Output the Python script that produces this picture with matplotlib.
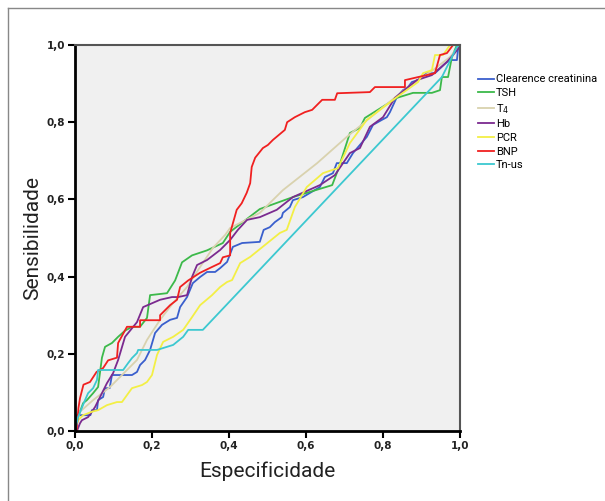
import matplotlib.pyplot as plt
from matplotlib.lines import Line2D
from matplotlib.ticker import FuncFormatter

# ROC curves: (1 - specificity, sensitivity)
clear_x = [0, 0.005, 0.04, 0.044, 0.057, 0.06, 0.073, 0.078, 0.09, 0.096, 0.148, 0.161, 0.169, 0.182, 0.195,
           0.208, 0.226, 0.247, 0.265, 0.273, 0.291, 0.306, 0.325, 0.343, 0.364, 0.377, 0.395, 0.41, 0.434,
           0.48, 0.49, 0.506, 0.519, 0.537, 0.54, 0.558, 0.566, 0.592, 0.636, 0.649, 0.67, 0.68, 0.706,
           0.722, 0.74, 0.758, 0.774, 0.797, 0.81, 0.818, 0.836, 0.852, 0.865, 0.875, 0.89, 0.914, 0.935,
           0.966, 0.974, 0.992, 0.995, 1.0]
clear_y = [0, 0.041, 0.041, 0.054, 0.054, 0.08, 0.088, 0.111, 0.111, 0.145, 0.145, 0.153, 0.171, 0.184,
           0.21, 0.254, 0.275, 0.288, 0.293, 0.321, 0.347, 0.383, 0.399, 0.412, 0.412, 0.422, 0.438, 0.477,
           0.487, 0.49, 0.521, 0.528, 0.541, 0.554, 0.565, 0.58, 0.598, 0.606, 0.632, 0.658, 0.668, 0.694,
           0.694, 0.72, 0.741, 0.762, 0.793, 0.806, 0.813, 0.826, 0.865, 0.883, 0.891, 0.904, 0.909, 0.927,
           0.927, 0.956, 0.961, 0.961, 0.99, 1.0]

tsh_x = [0, 0.008, 0.021, 0.031, 0.047, 0.06, 0.07, 0.078, 0.096, 0.112, 0.13, 0.148, 0.169, 0.187,
         0.195, 0.239, 0.26, 0.278, 0.304, 0.343, 0.384, 0.403, 0.48, 0.566, 0.668, 0.683, 0.714, 0.74,
         0.753, 0.836, 0.878, 0.927, 0.948, 0.953, 0.969, 0.979, 0.992, 1.0]
tsh_y = [0, 0.036, 0.072, 0.08, 0.098, 0.114, 0.19, 0.218, 0.228, 0.244, 0.26, 0.27, 0.27, 0.293,
         0.352, 0.357, 0.39, 0.437, 0.455, 0.468, 0.487, 0.516, 0.575, 0.606, 0.637, 0.676, 0.772, 0.785,
         0.811, 0.863, 0.876, 0.876, 0.883, 0.917, 0.917, 0.969, 1.0, 1.0]

t4_x = [0, 0.013, 0.047, 0.091, 0.135, 0.161, 0.187, 0.221, 0.255, 0.291, 0.325, 0.358, 0.39, 0.403,
        0.48, 0.54, 0.629, 0.706, 0.8, 0.862, 0.93, 0.974, 1.0]
t4_y = [0, 0.05, 0.08, 0.114, 0.158, 0.184, 0.236, 0.288, 0.332, 0.373, 0.425, 0.474, 0.508, 0.526,
        0.565, 0.624, 0.694, 0.762, 0.839, 0.889, 0.935, 0.969, 1.0]

hb_x = [0, 0.005, 0.013, 0.018, 0.034, 0.052, 0.065, 0.083, 0.099, 0.112, 0.13, 0.161, 0.177, 0.221,
        0.252, 0.268, 0.291, 0.304, 0.317, 0.343, 0.377, 0.403, 0.423, 0.447, 0.48, 0.524, 0.566, 0.636,
        0.675, 0.714, 0.74, 0.766, 0.8, 0.831, 0.849, 0.888, 0.927, 0.966, 0.982, 0.995, 1.0]
hb_y = [0, 0, 0.02, 0.028, 0.036, 0.062, 0.088, 0.124, 0.15, 0.184, 0.244, 0.282, 0.321, 0.34,
        0.347, 0.347, 0.352, 0.399, 0.43, 0.443, 0.469, 0.495, 0.521, 0.547, 0.554, 0.573, 0.606, 0.637,
        0.663, 0.72, 0.733, 0.788, 0.813, 0.863, 0.878, 0.909, 0.922, 0.956, 0.974, 0.99, 1.0]

pcr_x = [0, 0.008, 0.021, 0.044, 0.06, 0.083, 0.109, 0.122, 0.135, 0.148, 0.174, 0.187, 0.2, 0.213,
         0.229, 0.255, 0.281, 0.304, 0.325, 0.356, 0.377, 0.395, 0.408, 0.429, 0.455, 0.532, 0.55,
         0.571, 0.602, 0.644, 0.683, 0.714, 0.758, 0.836, 0.891, 0.904, 0.927, 0.935, 0.956, 0.974, 1.0]
pcr_y = [0, 0.028, 0.041, 0.05, 0.054, 0.067, 0.075, 0.075, 0.093, 0.111, 0.119, 0.127, 0.145, 0.197,
         0.231, 0.244, 0.262, 0.295, 0.326, 0.352, 0.373, 0.386, 0.391, 0.435, 0.451, 0.513, 0.521,
         0.58, 0.632, 0.668, 0.681, 0.746, 0.806, 0.865, 0.904, 0.927, 0.935, 0.974, 0.974, 1.0, 1.0]

bnp_x = [0, 0.004, 0.009, 0.013, 0.022, 0.039, 0.056, 0.073, 0.086, 0.109, 0.112, 0.135, 0.169, 0.169,
         0.221, 0.221, 0.239, 0.247, 0.265, 0.273, 0.294, 0.325, 0.356, 0.377, 0.384, 0.403, 0.403,
         0.42, 0.433, 0.446, 0.455, 0.459, 0.468, 0.488, 0.501, 0.514, 0.545, 0.551, 0.571, 0.597,
         0.616, 0.642, 0.675, 0.681, 0.766, 0.779, 0.857, 0.857, 0.935, 0.948, 0.966, 0.982, 1.0]
bnp_y = [0, 0.0, 0.06, 0.085, 0.12, 0.127, 0.153, 0.163, 0.183, 0.19, 0.228, 0.27, 0.27, 0.287,
         0.287, 0.30, 0.318, 0.326, 0.34, 0.373, 0.39, 0.41, 0.425, 0.435, 0.45, 0.455, 0.513,
         0.573, 0.59, 0.617, 0.642, 0.684, 0.708, 0.733, 0.741, 0.754, 0.78, 0.80, 0.813, 0.826,
         0.832, 0.858, 0.858, 0.875, 0.878, 0.891, 0.891, 0.909, 0.927, 0.974, 0.979, 1.0, 1.0]

tn_x = [0, 0.008, 0.026, 0.034, 0.047, 0.057, 0.06, 0.125, 0.138, 0.148, 0.161, 0.164, 0.213, 0.255,
        0.281, 0.294, 0.332, 0.953, 0.966, 0.992, 1.0]
tn_y = [0, 0.036, 0.08, 0.098, 0.111, 0.132, 0.158, 0.158, 0.176, 0.189, 0.202, 0.21, 0.21, 0.223,
        0.244, 0.262, 0.262, 0.917, 0.943, 0.995, 1.0]

series = [
    ("Clearence creatinina", clear_x, clear_y, "#3a5fcd"),
    ("TSH", tsh_x, tsh_y, "#3cb94a"),
    ("T$_4$", t4_x, t4_y, "#d9d2ae"),
    ("Hb", hb_x, hb_y, "#7b2a8f"),
    ("PCR", pcr_x, pcr_y, "#f3ef45"),
    ("BNP", bnp_x, bnp_y, "#f02020"),
    ("Tn-us", tn_x, tn_y, "#3cc8d0"),
]

narrow = ['Roboto', 'DejaVu Sans']

fig = plt.figure(figsize=(6.05, 5.01), dpi=100)
ax = fig.add_axes([75 / 605, 1 - 431 / 501, 385 / 605, 386 / 501])
ax.set_facecolor("#f0f0f0")

handles = []
for name, xs, ys, col in series:
    ax.plot(xs, ys, color=col, lw=1.3)
    handles.append(Line2D([], [], color=col, lw=1.3, label=name))

ax.set_xlim(0, 1)
ax.set_ylim(0, 1)
ticks = [0, 0.2, 0.4, 0.6, 0.8, 1.0]
ax.set_xticks(ticks)
ax.set_yticks(ticks)
fmt = FuncFormatter(lambda v, p: f"{v:.1f}".replace(".", ","))
ax.xaxis.set_major_formatter(fmt)
ax.yaxis.set_major_formatter(fmt)
ax.tick_params(direction="out", length=5, width=1.5, labelsize=7.5, pad=2)
for lab in ax.get_xticklabels() + ax.get_yticklabels():
    lab.set_fontweight("bold")
    lab.set_color("#222222")

for side in ["left", "bottom"]:
    ax.spines[side].set_linewidth(2)
    ax.spines[side].set_color("black")
for side in ["top", "right"]:
    ax.spines[side].set_linewidth(1.5)
    ax.spines[side].set_color("#555555")

ax.set_xlabel("Especificidade", fontsize=15, family=narrow, color="#222222", labelpad=8)
ax.set_ylabel("Sensibilidade", fontsize=15, family=narrow, color="#222222", labelpad=3)

leg = fig.legend(handles=handles, loc="upper left", bbox_to_anchor=(474 / 605, 1 - 70 / 501),
                 frameon=False, handlelength=1.4, handletextpad=0.2,
                 labelspacing=0.33, borderaxespad=0, prop={'family': narrow, 'size': 8})

# outer frame (top and left edges visible)
fig.add_artist(Line2D([8 / 605, 8 / 605], [0, 1 - 8 / 501], transform=fig.transFigure, color="#888888", lw=1))
fig.add_artist(Line2D([8 / 605, 1], [1 - 8 / 501, 1 - 8 / 501], transform=fig.transFigure, color="#888888", lw=1))

fig.savefig("out.png", dpi=100)
